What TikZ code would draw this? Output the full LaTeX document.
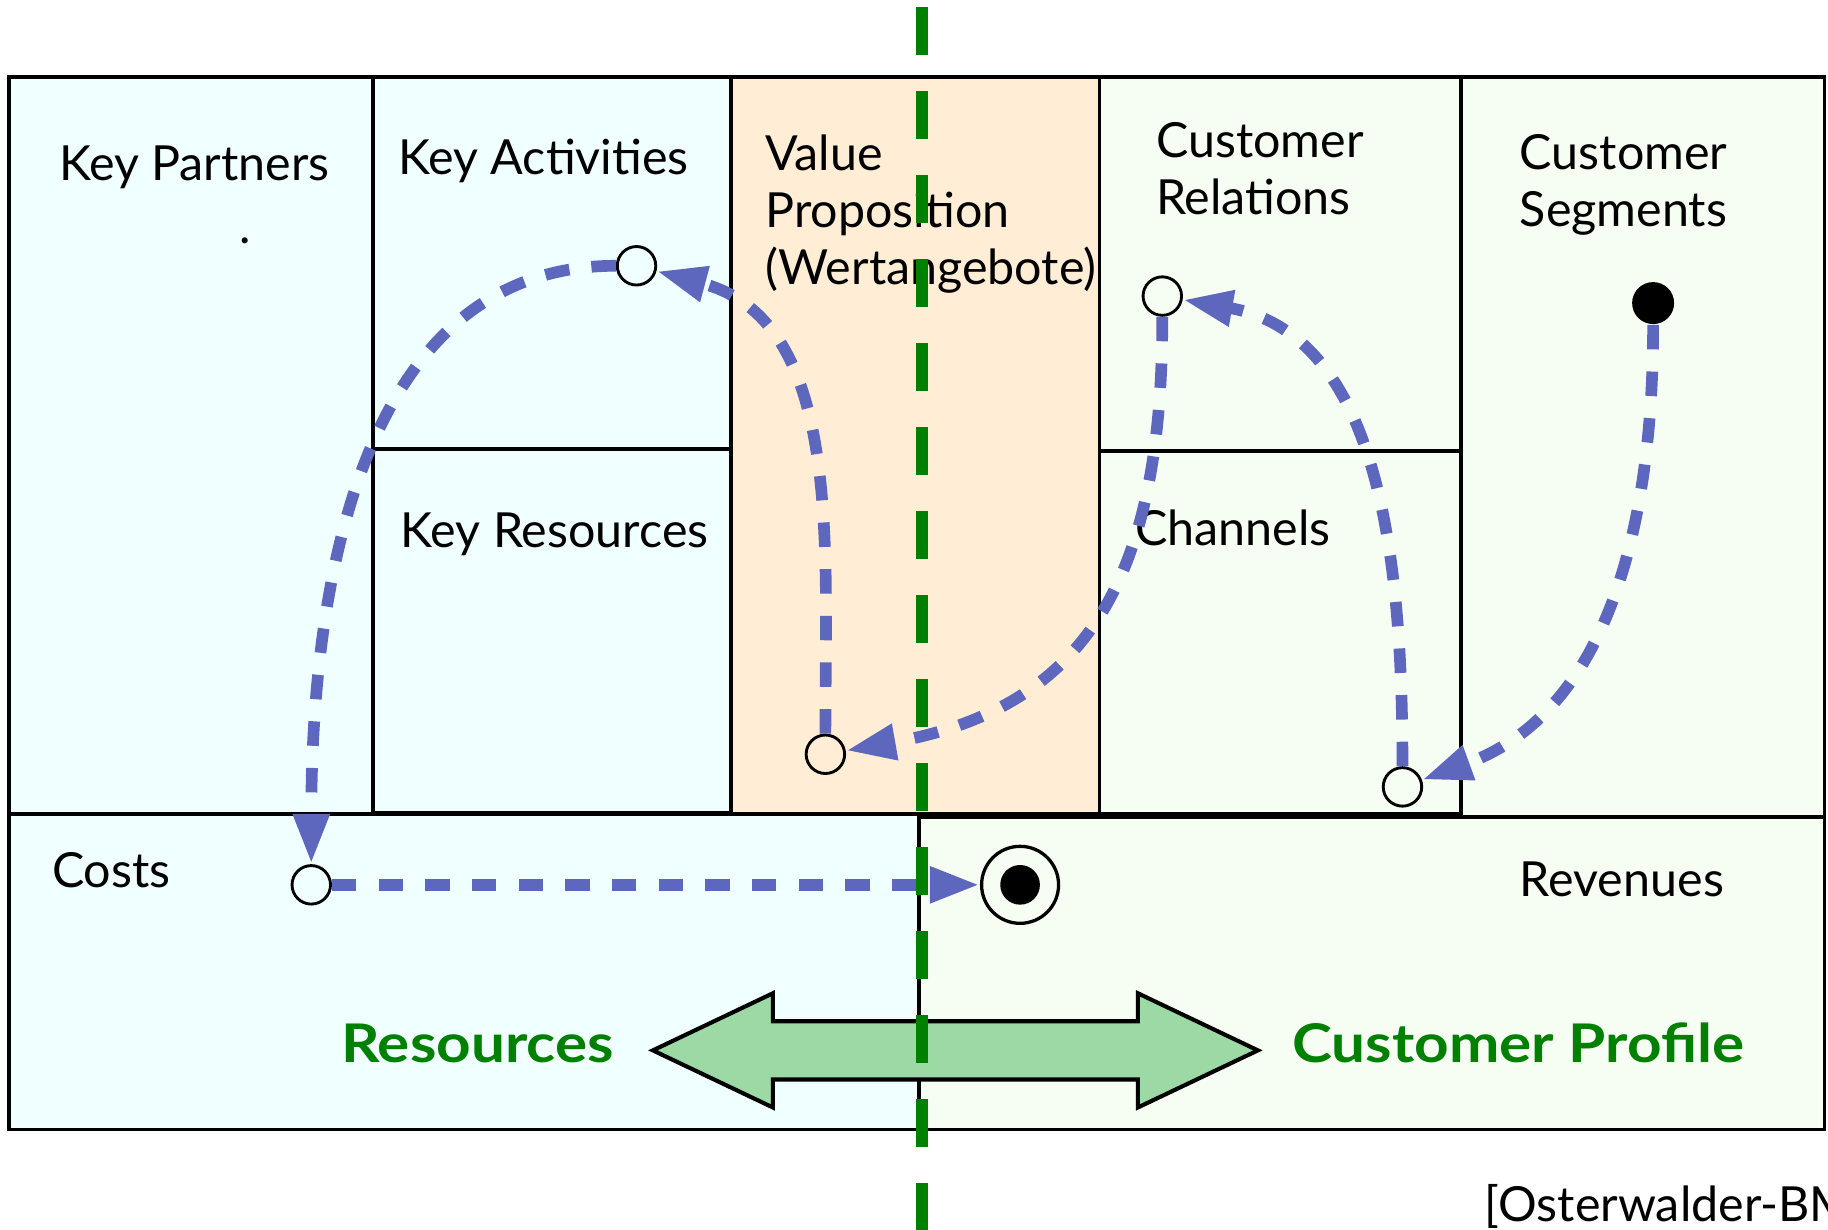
\documentclass[tikz,border=0pt]{standalone}
\usepackage{fontspec}
\setmainfont{Lato}
\newfontfamily\sideFont[FakeStretch=1.13]{Lato}
\usetikzlibrary{arrows.meta}

\definecolor{cyanFill}{RGB}{240,255,255}
\definecolor{orangeFill}{RGB}{255,238,213}
\definecolor{greenFill}{RGB}{246,253,242}
\definecolor{flowBlue}{RGB}{94,103,190}
\definecolor{splitGreen}{RGB}{0,128,0}
\definecolor{arrowGreen}{RGB}{157,217,165}

\tikzset{
  boxLine/.style={line width=0.9pt,black},
  boxLabel/.style={font=\fontsize{11.8}{13.9}\selectfont,inner sep=0pt,align=left,anchor=base west},
  sideLabel/.style={font=\fontsize{13}{15}\sideFont\bfseries,text=splitGreen,inner sep=0pt,anchor=base west},
  flowArrow/.style={draw=flowBlue,line width=2.85pt,dash pattern=on 0.21cm off 0.19cm,
    -{Triangle[length=0.43cm,width=0.29cm,fill=flowBlue]}},
  openState/.style={circle,draw,line width=0.7pt,inner sep=0pt,minimum size=0.33cm},
  fullState/.style={circle,fill=black,inner sep=0pt,minimum size=0.36cm},
  endState/.style={circle,draw,line width=0.8pt,inner sep=0pt,minimum size=0.66cm,
    path picture={\fill (path picture bounding box.center) circle (0.17cm);}}
}

\providecommand*{\xMin}{}
\providecommand*{\xMax}{}
\providecommand*{\yTop}{}
\providecommand*{\yMid}{}
\providecommand*{\yBot}{}
\renewcommand*{\xMin}{8}
\renewcommand*{\xMax}{1565}
\renewcommand*{\yTop}{989}
\renewcommand*{\yMid}{357}
\renewcommand*{\yBot}{86}

\begin{document}
\begin{tikzpicture}[x=0.01cm,y=0.01cm]
  \useasboundingbox (0,0) rectangle (1568,1055);
%Background fills
  \fill [cyanFill] (\xMin,\yMid) rectangle (627,\yTop);
  \fill [orangeFill] (627,\yMid) rectangle (943,\yTop);
  \fill [greenFill] (943,\yMid) rectangle (\xMax,\yTop);
  \fill [cyanFill] (\xMin,\yBot) rectangle (788,\yMid);
  \fill [greenFill] (788,\yBot) rectangle (\xMax,\yMid);
%Upper blocks
  \draw [boxLine] (\xMin,\yMid) rectangle (320,\yTop);
  \draw [boxLine] (320,670) rectangle (627,\yTop);
  \draw [boxLine] (320,358) rectangle (627,670);
  \draw [boxLine] (627,\yMid) rectangle (943,\yTop);
  \draw [boxLine] (943,668) rectangle (1253,\yTop);
  \draw [boxLine] (943,\yMid) rectangle (1253,668);
  \draw [boxLine] (1253,354) rectangle (\xMax,\yTop);
%Lower blocks
  \draw [boxLine] (\xMin,\yBot) rectangle (788,\yMid);
  \draw [boxLine] (788,\yBot) rectangle (\xMax,354);

%Labels (multi-line ones sit on their last line)
  \node (kpText) [boxLabel] at (50,900) {Key Partners};
  \node (kpDot) [boxLabel] at (205,846) {.};
  \node (kaText) [boxLabel] at (341,905) {Key Activities};
  \node (krText) [boxLabel] at (343,585) {Key Resources};
  \node (vpText) [boxLabel] at (656,811) {Value\\Proposition\\(Wertangebote)};
  \node (crText) [boxLabel] at (991,871) {Customer\\Relations};
  \node (csText) [boxLabel] at (1303,861) {Customer\\Segments};
  \node (chText) [boxLabel] at (973,587) {Channels};
  \node (costText) [boxLabel] at (44,294) {Costs};
  \node (revText) [boxLabel] at (1303,286) {Revenues};
  \node (resText) [sideLabel] at (292,144) {Resources};
  \node (cpText) [sideLabel] at (1108,144) {Customer Profile};
  \node (srcText) [boxLabel] at (1273,7) {[Osterwalder-BMC]};

%Double arrow
  \draw [line width=1pt,fill=arrowGreen,line join=miter]
    (560,154) -- (663,203) -- (663,179) -- (976,179) -- (976,203) -- (1079,154)
    -- (976,105) -- (976,129) -- (663,129) -- (663,105) -- cycle;

%Split line
  \draw [splitGreen,line width=0.1cm,dash pattern=on 0.41cm off 0.31cm] (791,1049) -- (791,0);

%States
  \node (actState) [openState] at (546,827) {};
  \node (valState) [openState] at (708,408) {};
  \node (relState) [openState] at (997,801) {};
  \node (chanState) [openState] at (1203,380) {};
  \node (segState) [fullState] at (1418,795) {};
  \node (costState) [openState] at (267,296) {};
  \node (revState) [endState] at (875,296) {};

%Flow
  \draw [flowArrow] (segState) to [out=-90,in=20] (chanState);
  \draw [flowArrow] (chanState) to [out=90,in=-10] (relState);
  \draw [flowArrow] (relState) to [out=-90,in=10,looseness=1.2] (valState);
  \draw [flowArrow] (valState) to [out=90,in=-15] (actState);
  \draw [flowArrow] (actState) to [out=180,in=90] (costState);
  \draw [flowArrow] (costState) -- (revState);
\end{tikzpicture}
\end{document}
